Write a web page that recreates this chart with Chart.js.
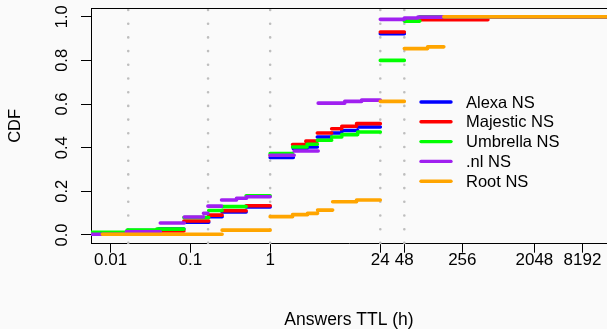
<!DOCTYPE html>
<html lang="en">
  <head>
    <meta charset="UTF-8" />
    <title>Answers TTL CDF</title>
    <style>
      html, body { margin: 0; padding: 0; background: #fafafa; }
      #wrap { width: 607px; height: 329px; }
    </style>
    <script src="https://cdn.jsdelivr.net/npm/chart.js@4.4.1/dist/chart.umd.min.js"></script>
  </head>
  <body>
    <div id="wrap"><canvas id="myChart" width="607" height="329"></canvas></div>

    <script>
      // step starts (hours) and CDF value of each step
      const alexaTtl = [0.0056, 0.0162, 0.04, 0.083, 0.17, 0.25, 0.5, 1, 1.95, 2.9, 3.9, 5.9, 7.9, 12.5, 24, 48, 500];
      const alexaCdf = [0.010, 0.020, 0.027, 0.058, 0.084, 0.105, 0.128, 0.355, 0.396, 0.403, 0.449, 0.467, 0.479, 0.495, 0.922, 0.990, 1.0];

      const majesticTtl = [0.0056, 0.0162, 0.04, 0.083, 0.17, 0.25, 0.5, 1, 1.91, 2.8, 3.9, 5.9, 7.9, 12.1, 24, 48, 535];
      const majesticCdf = [0.010, 0.016, 0.018, 0.064, 0.091, 0.111, 0.134, 0.365, 0.414, 0.430, 0.467, 0.487, 0.498, 0.510, 0.930, 0.986, 1.0];

      const umbrellaTtl = [0.0056, 0.0162, 0.038, 0.083, 0.17, 0.25, 0.5, 1, 1.91, 2.9, 3.9, 5.9, 7.9, 12.5, 24, 48, 75];
      const umbrellaCdf = [0.012, 0.023, 0.027, 0.080, 0.112, 0.130, 0.179, 0.373, 0.403, 0.416, 0.434, 0.449, 0.460, 0.472, 0.800, 0.980, 1.0];

      const nlTtl = [0.0056, 0.0158, 0.042, 0.084, 0.146, 0.166, 0.246, 0.379, 0.506, 1, 2.0, 4.0, 8.6, 14, 24, 48, 71, 141];
      const nlCdf = [0.003, 0.015, 0.055, 0.082, 0.099, 0.132, 0.160, 0.168, 0.175, 0.365, 0.385, 0.604, 0.612, 0.618, 0.988, 0.994, 0.998, 1.0];

      const rootTtl = [0.0079, 0.25, 1, 1.91, 2.94, 3.93, 6.07, 12.1, 24, 48, 94, 150];
      const rootCdf = [0.003, 0.022, 0.084, 0.093, 0.099, 0.114, 0.152, 0.160, 0.612, 0.854, 0.862, 1.0];

      const seriesNames = ['Alexa NS', 'Majestic NS', 'Umbrella NS', '.nl NS', 'Root NS'];
      const seriesColors = ['#0000ff', '#ff0000', '#00ff00', '#a020f0', '#ffa500'];

      const xTickValues = [0.01, 0.1, 1, 24, 48, 256, 2048, 8192];
      const xTickLabels = ['0.01', '0.1', '1', '24', '48', '256', '2048', '8192'];
      const yTickValues = [0, 0.2, 0.4, 0.6, 0.8, 1.0];
      const guideHours = [1 / 60, 1 / 6, 1, 24, 48];   // 1 min, 10 min, 1 h, 1 d, 2 d

      const lastTtl = 20000;  // last step runs off the right edge

      // horizontal step segments only (no verticals), broken by null points
      function stepSegments(ttl, cdf) {
        const pts = [];
        for (let i = 0; i < ttl.length; i++) {
          const end = i + 1 < ttl.length ? ttl[i + 1] : lastTtl;
          pts.push({ x: ttl[i], y: cdf[i] });
          pts.push({ x: end, y: cdf[i] });
          pts.push({ x: end, y: null });
        }
        return pts;
      }

      const allTtl = [alexaTtl, majesticTtl, umbrellaTtl, nlTtl, rootTtl];
      const allCdf = [alexaCdf, majesticCdf, umbrellaCdf, nlCdf, rootCdf];

      const datasets = seriesNames.map((name, i) => ({
        label: name,
        data: stepSegments(allTtl[i], allCdf[i]),
        borderColor: seriesColors[i],
        backgroundColor: seriesColors[i],
        borderWidth: 3.6,
        borderCapStyle: 'round',
        pointRadius: 0,
        spanGaps: false,
        fill: false,
        order: seriesNames.length - i   // later series drawn on top
      }));

      const font = 'Liberation Sans, Arial, sans-serif';
      Chart.defaults.font.family = font;
      Chart.defaults.color = '#000';

      const guides = {
        id: 'guides',
        beforeDatasetsDraw(chart) {
          const { ctx, chartArea, scales } = chart;
          ctx.save();
          ctx.strokeStyle = '#bebebe';
          ctx.lineWidth = 2.6;
          ctx.lineCap = 'round';
          ctx.setLineDash([0, 13.7]);
          guideHours.forEach(h => {
            const px = scales.x.getPixelForValue(h);
            ctx.beginPath();
            ctx.moveTo(px, chartArea.top + 2);
            ctx.lineTo(px, chartArea.bottom);
            ctx.stroke();
          });
          ctx.restore();
        }
      };

      const frame = {
        id: 'frame',
        afterDraw(chart) {
          const { ctx, chartArea } = chart;
          ctx.save();
          ctx.strokeStyle = '#000';
          ctx.lineWidth = 1;
          ctx.beginPath();
          ctx.moveTo(chartArea.left, chartArea.top + 0.5);
          ctx.lineTo(chartArea.right, chartArea.top + 0.5);
          ctx.stroke();
          ctx.restore();
        }
      };

      const rLegend = {
        id: 'rLegend',
        afterDatasetsDraw(chart) {
          const { ctx } = chart;
          ctx.save();
          ctx.font = '16.5px ' + font;
          ctx.textBaseline = 'middle';
          ctx.textAlign = 'left';
          seriesNames.forEach((name, i) => {
            const y = 102 + i * 19.8;
            ctx.strokeStyle = seriesColors[i];
            ctx.lineWidth = 3.4;
            ctx.lineCap = 'round';
            ctx.beginPath();
            ctx.moveTo(421, y);
            ctx.lineTo(451, y);
            ctx.stroke();
            ctx.fillStyle = '#000';
            ctx.fillText(name, 466, y + 1);
          });
          ctx.restore();
        }
      };

      const ctx = document.getElementById('myChart').getContext('2d');
      new Chart(ctx, {
        type: 'line',
        data: { datasets },
        plugins: [guides, frame, rLegend],
        options: {
          responsive: false,
          animation: false,
          events: [],
          layout: { padding: { top: 8, left: 0, right: 0, bottom: 0 } },
          plugins: { legend: { display: false }, tooltip: { enabled: false } },
          scales: {
            x: {
              type: 'logarithmic',
              min: 0.00569,
              max: 16630,
              afterBuildTicks: s => { s.ticks = xTickValues.map(v => ({ value: v })); },
              afterFit: s => { s.height = 85.3; s.paddingLeft = 0; s.paddingRight = 0; },
              grid: { drawOnChartArea: false, drawTicks: true, tickLength: 9, color: '#000' },
              border: { display: true, color: '#000', width: 1 },
              ticks: {
                autoSkip: false, maxRotation: 0, minRotation: 0, padding: -3,
                font: { size: 17 }, color: '#000',
                callback: (v, i) => xTickLabels[i]
              },
              title: {
                display: true, text: 'Answers TTL (h)', color: '#000',
                font: { size: 17.5, lineHeight: 1.1 }, padding: { top: 0, bottom: -1 }
              }
            },
            y: {
              min: -0.04,
              max: 1.04,
              afterBuildTicks: s => { s.ticks = yTickValues.map(v => ({ value: v })); },
              afterFit: s => { s.width = 91; s.paddingTop = 0; s.paddingBottom = 0; },
              grid: { drawOnChartArea: false, drawTicks: true, tickLength: 10, color: '#000' },
              border: { display: true, color: '#000', width: 1 },
              ticks: {
                minRotation: 90, maxRotation: 90, crossAlign: 'center', padding: 7,
                font: { size: 16.5 }, color: '#000',
                callback: v => v.toFixed(1)
              },
              title: {
                display: true, text: 'CDF', color: '#000',
                font: { size: 16.5 }, padding: { top: 6, bottom: 0 }
              }
            }
          }
        }
      });
    </script>
  </body>
</html>
